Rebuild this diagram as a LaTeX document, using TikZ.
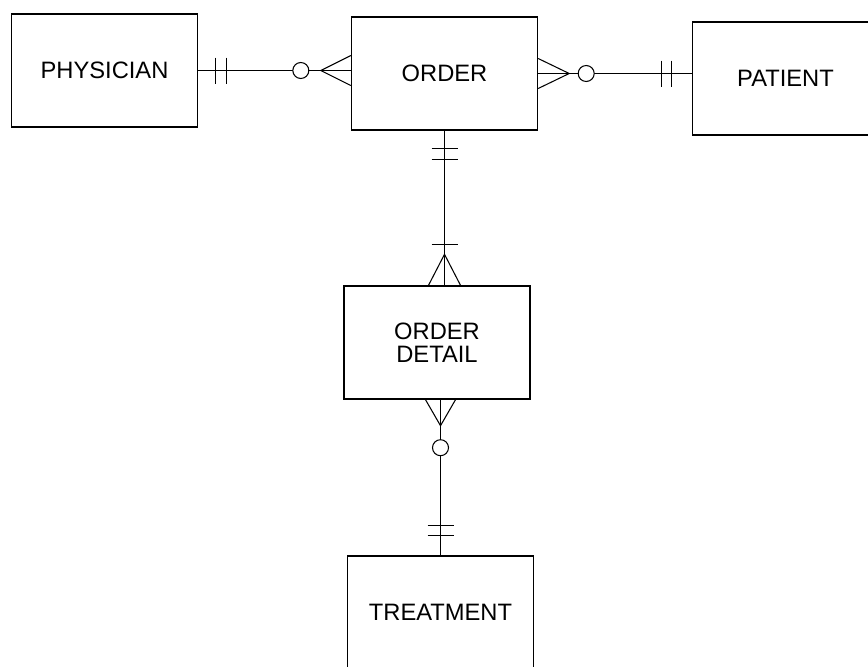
\documentclass[tikz,border=0pt]{standalone}
\usepackage{fontspec}
\setmainfont{Liberation Sans}
\usetikzlibrary{calc}
\tikzset{
  entity/.style={draw, line width=0.8pt, minimum width=3.72cm, minimum height=2.26cm, align=center, font=\fontsize{13.5}{13}\selectfont},
  rel/.style={line width=0.6pt}
}

\begin{document}
\begin{tikzpicture}[x=0.02cm, y=-0.02cm]
  \useasboundingbox (0,0) rectangle (868,666);
  \clip (0,0) rectangle (868,666);
  % Entities
  \node[entity] (physician) at (104.5,70.5) {PHYSICIAN};
  \node[entity] (order) at (444.5,73.5) {ORDER};
  \node[entity] (patient) at (785.5,78.5) {PATIENT};
  \node[entity] (detail) at (437,342.5) {ORDER\\DETAIL};
  \node[entity] (treatment) at (440.5,612.5) {TREATMENT};
  \coordinate (a) at (physician.east -| order.west);
  \coordinate (b) at (order.east -| patient.west);
  \coordinate (c) at (order.south |- detail.north);
  \coordinate (d) at (treatment.north |- detail.south);
  % Relationship lines
  \draw[rel] (physician.east) -- (a);
  \draw[rel] (order.east) -- (b);
  \draw[rel] (order.south) -- (c);
  \draw[rel] (treatment.north) -- (d);
  % Physician -- Order
  \foreach \d in {17,28} {
    \draw[rel] ($(physician.east)+(\d,-13)$) -- ++(0,26);
  }
  \draw[rel] ($(a)+(0,-15)$) -- ($(a)+(-30,0)$) -- ($(a)+(0,15)$);
  \draw[rel, fill=white] ($(a)+(-50,0)$) circle (0.16cm);
  % Order -- Patient
  \draw[rel] ($(order.east)+(0,-15)$) -- ($(order.east)+(31,0)$) -- ($(order.east)+(0,15)$);
  \draw[rel, fill=white] ($(order.east)+(48,0)$) circle (0.16cm);
  \foreach \d in {-30,-20} {
    \draw[rel] ($(b)+(\d,-13)$) -- ++(0,26);
  }
  % Order -- Order detail
  \foreach \d in {18,29} {
    \draw[rel] ($(order.south)+(-13,\d)$) -- ++(26,0);
  }
  \draw[rel] ($(c)+(-13,-41)$) -- ++(26,0);
  \draw[rel] ($(c)+(-16,0)$) -- ($(c)+(0,-31)$) -- ($(c)+(16,0)$);
  % Order detail -- Treatment
  \draw[rel] ($(d)+(-15,0)$) -- ($(d)+(0,26)$) -- ($(d)+(15,0)$);
  \draw[rel, fill=white] ($(d)+(0,48)$) circle (0.16cm);
  \foreach \d in {-30,-20} {
    \draw[rel] ($(treatment.north)+(-13,\d)$) -- ++(26,0);
  }
\end{tikzpicture}
\end{document}
